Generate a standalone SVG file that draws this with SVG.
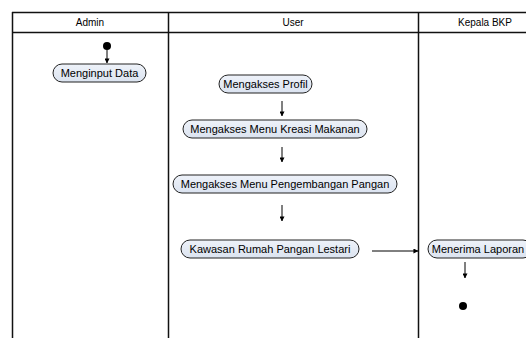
<svg xmlns="http://www.w3.org/2000/svg" width="526" height="338" viewBox="0 0 526 338">
  <defs>
    <marker id="arrow" viewBox="0 0 6 6" refX="5.5" refY="3" markerWidth="5" markerHeight="5" orient="auto" markerUnits="userSpaceOnUse">
      <path d="M0,0 L6,3 L0,6 z" fill="#000"/>
    </marker>
    <linearGradient id="nodeFill" x1="0" y1="0" x2="0" y2="1">
      <stop offset="0" stop-color="#eef2f9"/>
      <stop offset="1" stop-color="#dbe3f0"/>
    </linearGradient>
    <style>
      .lane { stroke: #111; stroke-width: 1.5; fill: none; }
      .head { font-family: "Liberation Sans", Arial, sans-serif; font-size: 10px; fill: #000; text-anchor: middle; }
      .node rect { fill: url(#nodeFill); stroke: #222; stroke-width: 1; }
      .node text { font-family: "Liberation Sans", Arial, sans-serif; font-size: 11px; fill: #000; text-anchor: middle; }
      .flow { stroke: #000; stroke-width: 1; fill: none; marker-end: url(#arrow); }
      .dot { fill: #000; }
    </style>
  </defs>

  <!-- swimlane frame -->
  <g id="lanes">
    <line class="lane" x1="12" y1="12.5" x2="526" y2="12.5"/>
    <line class="lane" x1="12" y1="32.5" x2="526" y2="32.5"/>
    <line class="lane" x1="12.5" y1="12" x2="12.5" y2="338"/>
    <line class="lane" x1="168.5" y1="12" x2="168.5" y2="338"/>
    <line class="lane" x1="418.5" y1="12" x2="418.5" y2="338"/>
    <text class="head" x="90" y="26">Admin</text>
    <text class="head" x="293" y="26">User</text>
    <text class="head" x="485" y="26">Kepala BKP</text>
  </g>

  <!-- start / end -->
  <g id="start"><circle class="dot" cx="107" cy="46" r="4"/></g>
  <g id="end"><circle class="dot" cx="463" cy="306" r="4"/></g>

  <!-- activities -->
  <g id="menginput-data" class="node">
    <rect x="53" y="64" width="93" height="18" rx="9" ry="9"/>
    <text x="99.5" y="77">Menginput Data</text>
  </g>
  <g id="mengakses-profil" class="node">
    <rect x="219" y="75" width="93" height="18" rx="9" ry="9"/>
    <text x="265.5" y="88">Mengakses Profil</text>
  </g>
  <g id="menu-kreasi" class="node">
    <rect x="183" y="120" width="184" height="18" rx="9" ry="9"/>
    <text x="275" y="133">Mengakses Menu Kreasi Makanan</text>
  </g>
  <g id="menu-pengembangan" class="node">
    <rect x="173" y="175" width="224" height="18" rx="9" ry="9"/>
    <text x="285" y="188">Mengakses Menu Pengembangan Pangan</text>
  </g>
  <g id="kawasan-rumah" class="node">
    <rect x="181" y="240" width="178" height="18" rx="9" ry="9"/>
    <text x="270" y="253">Kawasan Rumah Pangan Lestari</text>
  </g>
  <g id="menerima-laporan" class="node">
    <rect x="428" y="240" width="104" height="18" rx="9" ry="9"/>
    <text x="478" y="253">Menerima Laporan</text>
  </g>

  <!-- transitions -->
  <g id="connectors">
    <line class="flow" x1="107" y1="50" x2="107" y2="63"/>
    <line class="flow" x1="282" y1="101" x2="282" y2="116"/>
    <line class="flow" x1="282" y1="147" x2="282" y2="162"/>
    <line class="flow" x1="282" y1="205" x2="282" y2="221"/>
    <line class="flow" x1="372" y1="251" x2="418" y2="251"/>
    <line class="flow" x1="465" y1="262" x2="465" y2="278"/>
  </g>
</svg>
